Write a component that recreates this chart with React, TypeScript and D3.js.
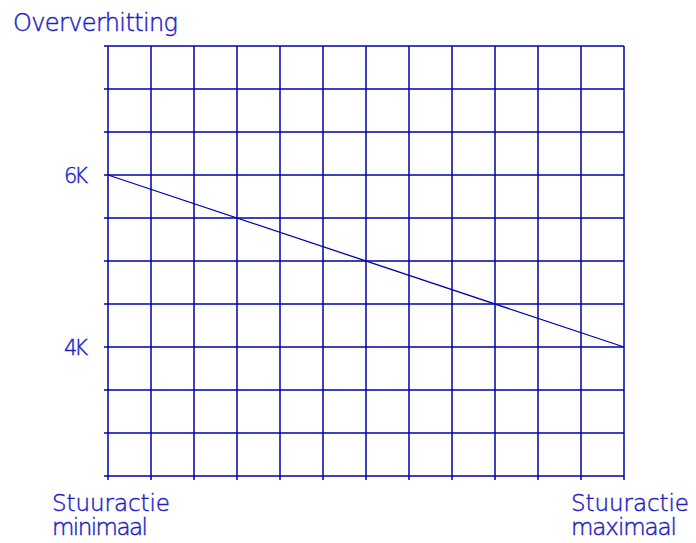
import { useEffect, useRef } from 'react';
import * as d3 from 'd3';

// Y axis: overheating (K), grid every 0.5K
const yGrid = [2.5, 3, 3.5, 4, 4.5, 5, 5.5, 6, 6.5, 7, 7.5];
const yLabels = [
  { value: 6, label: '6K' },
  { value: 4, label: '4K' },
];
// X axis: control action steps (minimal -> maximal)
const xGrid = [0, 1, 2, 3, 4, 5, 6, 7, 8, 9, 10, 11, 12];
const xLabels = [
  { value: 0, lines: ['Stuuractie', 'minimaal'], widths: [118, 96] },
  { value: 12, lines: ['Stuuractie', 'maximaal'], widths: [118, 106] },
];
// The line: overheating vs control action
const lineX = [0, 12];
const lineY = [6, 4];

const LINE = '#0000a8';
const TEXT = '#1c1cc4';
const FONT = '"DejaVu Sans", sans-serif';

// thin technical-looking text
const styleText = (sel: any, size: number) =>
  sel
    .attr('fill', TEXT)
    .attr('stroke', TEXT)
    .attr('stroke-width', 0.45)
    .attr('opacity', 0.99)
    .attr('font-family', FONT)
    .attr('font-weight', 200)
    .attr('font-size', size)
    .attr('lengthAdjust', 'spacing');

const App = () => {
  const ref = useRef<SVGSVGElement>(null);

  useEffect(() => {
    const svg = d3.select(ref.current);
    svg.selectAll('*').remove();

    const x = d3.scaleLinear().domain([0, 12]).range([108, 624]);
    const y = d3.scaleLinear().domain([2.5, 7.5]).range([476, 46]);

    // horizontal grid lines (with small tick to the left)
    svg
      .append('g')
      .selectAll('line')
      .data(yGrid)
      .enter()
      .append('line')
      .attr('x1', x(0) - 4)
      .attr('x2', x(12))
      .attr('y1', (d) => y(d))
      .attr('y2', (d) => y(d))
      .attr('stroke', LINE)
      .attr('stroke-width', 1.5);

    // vertical grid lines (with small tick below)
    svg
      .append('g')
      .selectAll('line')
      .data(xGrid)
      .enter()
      .append('line')
      .attr('x1', (d) => x(d))
      .attr('x2', (d) => x(d))
      .attr('y1', y(7.5))
      .attr('y2', y(2.5) + 4)
      .attr('stroke', LINE)
      .attr('stroke-width', 1.5);

    // the line
    const pts = lineX.map((v, i) => [v, lineY[i]] as [number, number]);
    svg
      .append('path')
      .datum(pts)
      .attr('fill', 'none')
      .attr('stroke', LINE)
      .attr('stroke-width', 1.3)
      .attr(
        'd',
        d3
          .line<[number, number]>()
          .x((d) => x(d[0]))
          .y((d) => y(d[1]))
      );

    // y labels
    styleText(
      svg
        .append('g')
        .selectAll('text')
        .data(yLabels)
        .enter()
        .append('text')
        .attr('x', x(0) - 20)
        .attr('y', (d) => y(d.value))
        .attr('dy', '0.36em')
        .attr('text-anchor', 'end')
        .attr('textLength', 24),
      21
    ).text((d: any) => d.label);

    // x labels
    xLabels.forEach((lab) => {
      const x0 = lab.value === 0 ? 52 : 571;
      styleText(
        svg
          .append('g')
          .selectAll('text')
          .data(lab.lines)
          .enter()
          .append('text')
          .attr('x', x0)
          .attr('y', (_d, i) => 511 + i * 24)
          .attr('textLength', (_d, i) => lab.widths[i]),
        23
      ).text((d: any) => d);
    });

    // title
    styleText(
      svg.append('text').attr('x', 13).attr('y', 31).attr('textLength', 165),
      24
    ).text('Oververhitting');
  }, []);

  return (
    <svg
      ref={ref}
      width='696'
      height='543'
      style={{ position: 'absolute', left: 0, top: 0, background: '#fff' }}
    ></svg>
  );
};

export default App;
